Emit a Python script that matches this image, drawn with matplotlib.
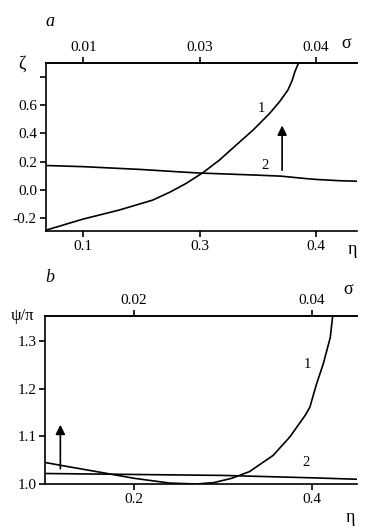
import matplotlib
matplotlib.use("Agg")
import matplotlib.pyplot as plt

plt.rcParams['font.family'] = ['Liberation Serif', 'DejaVu Serif']
plt.rcParams['font.size'] = 11
plt.rcParams['axes.linewidth'] = 1.2

# panel a: zeta vs eta (curve 1 and curve 2)
eta_a1 = [0.168, 0.1994, 0.231, 0.2597, 0.2745, 0.2885, 0.3028, 0.3172,
          0.3316, 0.346, 0.3603, 0.369, 0.376, 0.3795, 0.382, 0.385]
zeta_a1 = [-0.283, -0.206, -0.141, -0.071, -0.015, 0.047, 0.122, 0.212,
           0.318, 0.423, 0.541, 0.625, 0.706, 0.77, 0.835, 0.894]
eta_a2 = [0.168, 0.2, 0.25, 0.283, 0.3, 0.35, 0.37, 0.39, 0.4, 0.42, 0.436]
zeta_a2 = [0.173, 0.165, 0.145, 0.128, 0.12, 0.105, 0.098, 0.082, 0.075,
           0.066, 0.062]
xticks_a = [0.2, 0.3, 0.4]
xlabels_a = ['0.1', '0.3', '0.4']
sigma_labels_a = ['0.01', '0.03', '0.04']
yticks_a = [-0.2, 0.0, 0.2, 0.4, 0.6, 0.8]
ylabels_a = ['-0.2', '0.0', '0.2', '0.4', '0.6', '']

# panel b: psi/pi vs eta
eta_b1 = [0.1, 0.13, 0.17, 0.2, 0.24, 0.27, 0.29, 0.31, 0.33, 0.3567,
          0.3756, 0.3928, 0.398, 0.4056, 0.413, 0.421, 0.4237]
psi_b1 = [1.045, 1.035, 1.022, 1.012, 1.002, 1.0, 1.003, 1.012, 1.026,
          1.06, 1.099, 1.144, 1.161, 1.21, 1.251, 1.307, 1.352]
eta_b2 = [0.1, 0.2, 0.3, 0.4, 0.451]
psi_b2 = [1.022, 1.020, 1.018, 1.013, 1.01]
xticks_b = [0.2, 0.4]
xlabels_b = ['0.2', '0.4']
sigma_labels_b = ['0.02', '0.04']
yticks_b = [1.0, 1.1, 1.2, 1.3]
ylabels_b = ['1.0', '1.1', '1.2', '1.3']

fig = plt.figure(figsize=(3.71, 5.32), dpi=100)


def style_axes(ax, top):
    ax.spines['right'].set_visible(False)
    top.spines['right'].set_visible(False)
    top.spines['left'].set_visible(False)
    top.spines['bottom'].set_visible(False)
    for a in (ax, top):
        a.tick_params(direction='out', length=4.5, width=1.2, pad=2,
                      labelsize=11)


# ---- panel a ----
ax1 = fig.add_axes([0.124, 0.5663, 0.838, 0.3147])
ax1.plot(eta_a1, zeta_a1, color='black', lw=1.2)
ax1.plot(eta_a2, zeta_a2, color='black', lw=1.2)
ax1.set_xlim(0.168, 0.4353)
ax1.set_ylim(-0.287, 0.894)
ax1.set_xticks(xticks_a)
ax1.set_xticklabels(xlabels_a)
ax1.set_yticks(yticks_a)
ax1.set_yticklabels(ylabels_a)
top1 = ax1.twiny()
top1.set_xlim(ax1.get_xlim())
top1.set_xticks(xticks_a)
top1.set_xticklabels(sigma_labels_a)
style_axes(ax1, top1)
ax1.annotate('', xy=(0.371, 0.475), xytext=(0.371, 0.12),
             arrowprops=dict(arrowstyle='-|>', color='black', lw=1.2,
                             mutation_scale=14))
ax1.text(0.353, 0.575, '1', ha='center', va='center', fontsize=10.5)
ax1.text(0.356, 0.17, '2', ha='center', va='center', fontsize=10.5)
fig.text(50 / 371, 1 - 22 / 532, 'a', style='italic', fontsize=13,
         ha='center', va='center')
fig.text(22 / 371, 1 - 64 / 532, 'ζ', fontsize=13, ha='center', va='center')
fig.text(346 / 371, 1 - 44 / 532, 'σ', fontsize=13, ha='center', va='center')
fig.text(352 / 371, 1 - 250 / 532, 'η', fontsize=13, ha='center', va='center')

# ---- panel b ----
ax2 = fig.add_axes([0.122, 0.0902, 0.84, 0.3158])
ax2.plot(eta_b1, psi_b1, color='black', lw=1.2)
ax2.plot(eta_b2, psi_b2, color='black', lw=1.2)
ax2.set_xlim(0.1, 0.451)
ax2.set_ylim(1.0, 1.352)
ax2.set_xticks(xticks_b)
ax2.set_xticklabels(xlabels_b)
ax2.set_yticks(yticks_b)
ax2.set_yticklabels(ylabels_b)
top2 = ax2.twiny()
top2.set_xlim(ax2.get_xlim())
top2.set_xticks(xticks_b)
top2.set_xticklabels(sigma_labels_b)
style_axes(ax2, top2)
ax2.annotate('', xy=(0.117, 1.13), xytext=(0.117, 1.026),
             arrowprops=dict(arrowstyle='-|>', color='black', lw=1.2,
                             mutation_scale=14))
ax2.text(0.395, 1.251, '1', ha='center', va='center', fontsize=10.5)
ax2.text(0.394, 1.046, '2', ha='center', va='center', fontsize=10.5)
fig.text(50 / 371, 1 - 277 / 532, 'b', style='italic', fontsize=13,
         ha='center', va='center')
fig.text(22 / 371, 1 - 316 / 532, 'ψ/π', fontsize=12, ha='center',
         va='center')
fig.text(348 / 371, 1 - 290 / 532, 'σ', fontsize=13, ha='center', va='center')
fig.text(350 / 371, 1 - 518 / 532, 'η', fontsize=13, ha='center', va='center')

fig.savefig('out.png', dpi=100)
